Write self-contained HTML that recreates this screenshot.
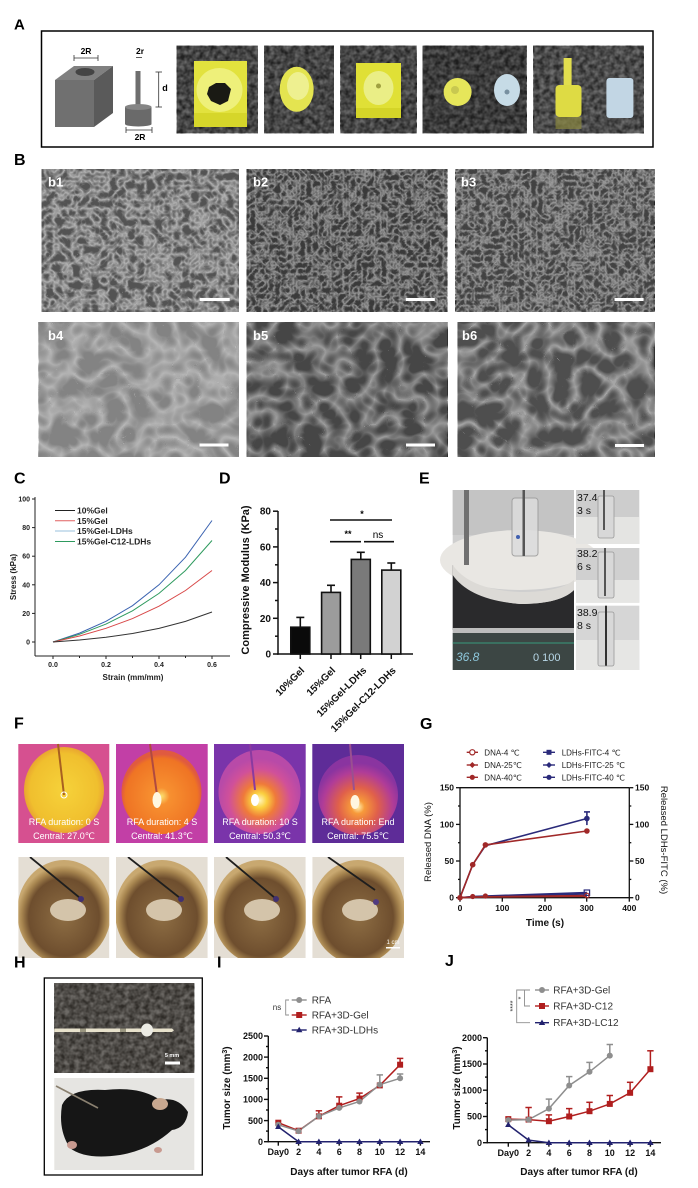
<!DOCTYPE html>
<html><head><meta charset="utf-8"><style>
html,body{margin:0;padding:0;background:#fff;}
svg{display:block;}
text{font-family:"Liberation Sans",Arial,"DejaVu Sans",sans-serif;}
</style></head><body>
<svg width="698" height="1188" viewBox="0 0 698 1188" xmlns="http://www.w3.org/2000/svg">
<defs>
<filter id="nzA" x="0" y="0" width="1" height="1" color-interpolation-filters="sRGB"><feTurbulence type="fractalNoise" baseFrequency="0.2" numOctaves="2" seed="2"/><feColorMatrix type="matrix" values="1.7 0 0 0 -0.35 1.7 0 0 0 -0.35 1.7 0 0 0 -0.35 0 0 0 0 1"/></filter>
<filter id="nzB" x="0" y="0" width="1" height="1" color-interpolation-filters="sRGB"><feTurbulence type="turbulence" baseFrequency="0.11" numOctaves="2" seed="7"/><feColorMatrix type="matrix" values="-2.3 0 0 0 1 -2.3 0 0 0 1 -2.3 0 0 0 1 0 0 0 0 1"/></filter>
<filter id="nzB2" x="0" y="0" width="1" height="1" color-interpolation-filters="sRGB"><feTurbulence type="turbulence" baseFrequency="0.16" numOctaves="2" seed="4"/><feColorMatrix type="matrix" values="-2.3 0 0 0 1 -2.3 0 0 0 1 -2.3 0 0 0 1 0 0 0 0 1"/></filter>
<filter id="nzC" x="0" y="0" width="1" height="1" color-interpolation-filters="sRGB"><feTurbulence type="turbulence" baseFrequency="0.04" numOctaves="2" seed="11"/><feColorMatrix type="matrix" values="-2.3 0 0 0 1 -2.3 0 0 0 1 -2.3 0 0 0 1 0 0 0 0 1"/></filter>
<radialGradient id="th1" cx="0.5" cy="0.5" r="0.5"><stop offset="0" stop-color="#f6d23a"/><stop offset="0.85" stop-color="#f0bf2e"/><stop offset="1" stop-color="#e9a530"/></radialGradient>
<radialGradient id="th2" cx="0.5" cy="0.55" r="0.5"><stop offset="0" stop-color="#fbe070"/><stop offset="0.2" stop-color="#f79030"/><stop offset="0.9" stop-color="#ef7424"/><stop offset="1" stop-color="#e05a40"/></radialGradient>
<radialGradient id="th3" cx="0.5" cy="0.6" r="0.5"><stop offset="0" stop-color="#fff6c0"/><stop offset="0.18" stop-color="#fbd040"/><stop offset="0.4" stop-color="#ef7a3a"/><stop offset="0.75" stop-color="#d0509a"/><stop offset="1" stop-color="#b84aa8"/></radialGradient>
<radialGradient id="th4" cx="0.5" cy="0.65" r="0.55"><stop offset="0" stop-color="#fff0b0"/><stop offset="0.15" stop-color="#f79a3a"/><stop offset="0.45" stop-color="#e0604a"/><stop offset="0.8" stop-color="#b03c98"/><stop offset="1" stop-color="#8a34a0"/></radialGradient>
<radialGradient id="bowl" cx="0.5" cy="0.55" r="0.5"><stop offset="0" stop-color="#8e6e44"/><stop offset="0.75" stop-color="#6e4e2e"/><stop offset="0.9" stop-color="#a88650"/><stop offset="1" stop-color="#c8a870"/></radialGradient>
<clipPath id="cf1"><rect x="18.3" y="857" width="91" height="101"/></clipPath>
<clipPath id="cf2"><rect x="116" y="857" width="91.7" height="101"/></clipPath>
<clipPath id="cf3"><rect x="214" y="857" width="91.7" height="101"/></clipPath>
<clipPath id="cf4"><rect x="312.3" y="857" width="91.7" height="101"/></clipPath>
</defs>

<!-- ================= A ================= -->
<text x="14" y="29.5" font-size="15" font-weight="bold">A</text>
<rect x="41.5" y="31" width="611.5" height="116" fill="#fff" stroke="#000" stroke-width="1.5"/>
<polygon points="55,80 94,80 94,127 55,127" fill="#707070"/>
<polygon points="55,80 94,80 113,66 74,66" fill="#808080"/>
<polygon points="94,80 113,66 113,113 94,127" fill="#5a5a5a"/>
<ellipse cx="85" cy="72" rx="9.5" ry="4" fill="#444"/>
<text x="86" y="54" font-size="8.5" font-weight="bold" text-anchor="middle">2R</text>
<line x1="74" y1="58" x2="98" y2="58" stroke="#333" stroke-width="0.8"/>
<line x1="74" y1="55" x2="74" y2="61" stroke="#333" stroke-width="0.8"/>
<line x1="98" y1="55" x2="98" y2="61" stroke="#333" stroke-width="0.8"/>
<rect x="135.5" y="71" width="5" height="37" fill="#6e6e6e"/>
<rect x="125" y="107" width="26.5" height="17" fill="#6a6a6a"/>
<ellipse cx="138.3" cy="107" rx="13.3" ry="3" fill="#858585"/>
<ellipse cx="138.3" cy="124" rx="13.3" ry="2.5" fill="#6a6a6a"/>
<text x="140" y="54" font-size="8.5" font-weight="bold" text-anchor="middle">2r</text>
<line x1="136" y1="57.5" x2="142" y2="57.5" stroke="#333" stroke-width="0.8"/>
<text x="165" y="91" font-size="9" font-weight="bold" text-anchor="middle">d</text>
<line x1="158.7" y1="72" x2="158.7" y2="107" stroke="#333" stroke-width="0.8"/>
<line x1="155.5" y1="72" x2="162" y2="72" stroke="#333" stroke-width="0.8"/>
<line x1="155.5" y1="107" x2="162" y2="107" stroke="#333" stroke-width="0.8"/>
<line x1="126" y1="130" x2="152" y2="130" stroke="#333" stroke-width="0.8"/>
<line x1="126" y1="127" x2="126" y2="133" stroke="#333" stroke-width="0.8"/>
<line x1="152" y1="127" x2="152" y2="133" stroke="#333" stroke-width="0.8"/>
<text x="140" y="140" font-size="8.5" font-weight="bold" text-anchor="middle">2R</text>

<!-- photos A -->
<g>
<rect x="176.7" y="45.7" width="81.2" height="87.6" filter="url(#nzA)"/>
<rect x="176.7" y="45.7" width="81.2" height="87.6" fill="#2e2e2e" opacity="0.72"/>
<rect x="194" y="61" width="53" height="66" fill="#e2e23e"/>
<ellipse cx="219.5" cy="90" rx="23" ry="22" fill="#eef07a"/>
<polygon points="209,87 216,83 225,83 231,89 228,101 220,105 211,101 207,94" fill="#1a1a14"/>
<rect x="194" y="113" width="53" height="14" fill="#d6d62a"/>
</g>
<g>
<rect x="264.2" y="45.7" width="69.8" height="87.6" filter="url(#nzA)"/>
<rect x="264.2" y="45.7" width="69.8" height="87.6" fill="#2e2e2e" opacity="0.72"/>
<ellipse cx="296.7" cy="89.3" rx="17" ry="22.5" fill="#e4e450"/>
<ellipse cx="298" cy="86" rx="11" ry="14" fill="#eef090"/>
</g>
<g>
<rect x="340.4" y="45.7" width="76.2" height="87.6" filter="url(#nzA)"/>
<rect x="340.4" y="45.7" width="76.2" height="87.6" fill="#2e2e2e" opacity="0.72"/>
<rect x="356" y="63" width="45" height="55" fill="#e0e036"/>
<ellipse cx="378.5" cy="88" rx="15" ry="17" fill="#eaee86"/>
<circle cx="378.5" cy="86" r="2.5" fill="#a0a040"/>
<rect x="356" y="108" width="45" height="10" fill="#d4d428"/>
</g>
<g>
<rect x="422.5" y="45.7" width="104.1" height="87.6" filter="url(#nzA)"/>
<rect x="422.5" y="45.7" width="104.1" height="87.6" fill="#262626" opacity="0.76"/>
<circle cx="457.6" cy="92" r="14" fill="#e6e65a"/>
<circle cx="455" cy="90" r="4" fill="#c8c850"/>
<ellipse cx="507" cy="90" rx="13" ry="16" fill="#c6dbe6"/>
<circle cx="507" cy="92" r="2.5" fill="#7890a0"/>
</g>
<g>
<rect x="533.4" y="45.7" width="110.4" height="87.6" filter="url(#nzA)"/>
<rect x="533.4" y="45.7" width="110.4" height="87.6" fill="#363636" opacity="0.72"/>
<rect x="563.6" y="58" width="8" height="29" fill="#e2de4e"/>
<rect x="555.5" y="85" width="26" height="32" rx="4" fill="#dedb44"/>
<rect x="555.5" y="117" width="26" height="12" fill="#8a8840" opacity="0.7"/>
<rect x="606.4" y="78" width="27" height="40" rx="3" fill="#c2d6e4"/>
</g>

<!-- ================= B ================= -->
<text x="14" y="165" font-size="16" font-weight="bold">B</text>
<g>
<rect x="41.5" y="169" width="197.5" height="143" filter="url(#nzB)"/>
<rect x="41.5" y="169" width="197.5" height="143" fill="#868686" opacity="0.62"/>
<rect x="246.6" y="169" width="200.6" height="143" filter="url(#nzB2)"/>
<rect x="246.6" y="169" width="200.6" height="143" fill="#5e5e5e" opacity="0.62"/>
<rect x="455.4" y="169" width="199.2" height="143" filter="url(#nzB2)"/>
<rect x="455.4" y="169" width="199.2" height="143" fill="#686868" opacity="0.64"/>
<rect x="38.8" y="322" width="200.2" height="135" filter="url(#nzC)"/>
<rect x="38.8" y="322" width="200.2" height="135" fill="#a4a4a4" opacity="0.8"/>
<rect x="246.6" y="322" width="201.1" height="135" filter="url(#nzC)"/>
<rect x="246.6" y="322" width="201.1" height="135" fill="#6a6a6a" opacity="0.66"/>
<rect x="457.6" y="322" width="197" height="135" filter="url(#nzC)"/>
<rect x="457.6" y="322" width="197" height="135" fill="#767676" opacity="0.66"/>
</g>
<g fill="#fff" font-size="13" font-weight="bold">
<text x="48" y="186.5">b1</text><text x="253" y="186.5">b2</text><text x="461" y="186.5">b3</text>
<text x="48" y="340">b4</text><text x="253" y="340">b5</text><text x="462" y="340">b6</text>
</g>
<g fill="#fff">
<rect x="199.7" y="298" width="30" height="3"/><rect x="405.8" y="298" width="29" height="3"/><rect x="614.5" y="298" width="29" height="3"/>
<rect x="199.5" y="443.5" width="29" height="3"/><rect x="406" y="443.5" width="29" height="3"/><rect x="615" y="444" width="29" height="3"/>
</g>

<!-- ================= C ================= -->
<text x="14" y="483.5" font-size="16" font-weight="bold">C</text>
<g stroke="#222" stroke-width="1" fill="none">
<line x1="35" y1="497" x2="35" y2="656"/>
<line x1="35" y1="656" x2="230" y2="656"/>
<line x1="32" y1="642" x2="35" y2="642"/><line x1="32" y1="613.4" x2="35" y2="613.4"/><line x1="32" y1="584.8" x2="35" y2="584.8"/><line x1="32" y1="556.2" x2="35" y2="556.2"/><line x1="32" y1="527.6" x2="35" y2="527.6"/><line x1="32" y1="499" x2="35" y2="499"/>
<line x1="53" y1="656" x2="53" y2="659"/><line x1="106" y1="656" x2="106" y2="659"/><line x1="159" y1="656" x2="159" y2="659"/><line x1="212" y1="656" x2="212" y2="659"/>
<line x1="79.5" y1="656" x2="79.5" y2="658"/><line x1="132.5" y1="656" x2="132.5" y2="658"/><line x1="185.5" y1="656" x2="185.5" y2="658"/>
</g>
<g font-size="7" font-weight="bold" text-anchor="end" fill="#222">
<text x="30" y="644.5">0</text><text x="30" y="616">20</text><text x="30" y="587.3">40</text><text x="30" y="558.7">60</text><text x="30" y="530">80</text><text x="30" y="501.5">100</text>
</g>
<g font-size="7" font-weight="bold" text-anchor="middle" fill="#222">
<text x="53" y="667">0.0</text><text x="106" y="667">0.2</text><text x="159" y="667">0.4</text><text x="212" y="667">0.6</text>
</g>
<text x="133" y="680" font-size="8" font-weight="bold" text-anchor="middle" fill="#222">Strain (mm/mm)</text>
<text transform="translate(16,577) rotate(-90)" font-size="8" font-weight="bold" text-anchor="middle" fill="#222">Stress (kPa)</text>
<g fill="none" stroke-width="1">
<polyline stroke="#3a62b0" points="53,642 79.5,633.1 106,621.3 132.5,605.7 159,584.8 185.5,557.2 212,520.5"/>
<polyline stroke="#2e9a5e" points="53,642 79.5,634.3 106,624.1 132.5,610.8 159,593.4 185.5,570.5 212,540.5"/>
<polyline stroke="#d84848" points="53,642 79.5,636 106,628.3 132.5,618.6 159,606.2 185.5,590.5 212,570.5"/>
<polyline stroke="#333" points="53,642 79.5,640 106,637.3 132.5,633.5 159,628.4 185.5,621.4 212,612"/>
</g>
<g stroke-width="1">
<line x1="55" y1="510.5" x2="75" y2="510.5" stroke="#222"/>
<line x1="55" y1="520.8" x2="75" y2="520.8" stroke="#e06060"/>
<line x1="55" y1="531" x2="75" y2="531" stroke="#98c0dc"/>
<line x1="55" y1="541.5" x2="75" y2="541.5" stroke="#2e9a5e"/>
</g>
<g font-size="8.5" font-weight="bold" fill="#222">
<text x="77" y="513.5">10%Gel</text><text x="77" y="523.8">15%Gel</text><text x="77" y="534">15%Gel-LDHs</text><text x="77" y="544.5">15%Gel-C12-LDHs</text>
</g>

<!-- ================= D ================= -->
<text x="219" y="483.5" font-size="16" font-weight="bold">D</text>
<g stroke="#111" stroke-width="1.5" fill="none">
<line x1="278" y1="511" x2="278" y2="654.7"/>
<line x1="277.3" y1="654" x2="413" y2="654"/>
<line x1="273" y1="654" x2="278" y2="654"/><line x1="273" y1="618.3" x2="278" y2="618.3"/><line x1="273" y1="582.6" x2="278" y2="582.6"/><line x1="273" y1="546.9" x2="278" y2="546.9"/><line x1="273" y1="511.2" x2="278" y2="511.2"/>
<line x1="275" y1="636.2" x2="278" y2="636.2"/><line x1="275" y1="600.5" x2="278" y2="600.5"/><line x1="275" y1="564.8" x2="278" y2="564.8"/><line x1="275" y1="529" x2="278" y2="529"/>
<line x1="300.3" y1="654" x2="300.3" y2="659"/><line x1="331" y1="654" x2="331" y2="659"/><line x1="360.7" y1="654" x2="360.7" y2="659"/><line x1="391.3" y1="654" x2="391.3" y2="659"/>
</g>
<g font-size="10" font-weight="bold" text-anchor="end" fill="#111">
<text x="271" y="657.5">0</text><text x="271" y="621.8">20</text><text x="271" y="586">40</text><text x="271" y="550.4">60</text><text x="271" y="514.7">80</text>
</g>
<text transform="translate(249,580) rotate(-90)" font-size="11" font-weight="bold" text-anchor="middle" fill="#111">Compressive Modulus (KPa)</text>
<g stroke="#111" stroke-width="1.6">
<rect x="290.8" y="627.2" width="19" height="26.8" fill="#0a0a0a"/>
<rect x="321.6" y="592.4" width="18.8" height="61.6" fill="#9c9c9c"/>
<rect x="351.3" y="559.4" width="19" height="94.6" fill="#7a7a7a"/>
<rect x="381.8" y="570.1" width="19" height="83.9" fill="#d2d2d2"/>
<line x1="300.3" y1="627.2" x2="300.3" y2="617.4"/><line x1="296.3" y1="617.4" x2="304.3" y2="617.4"/>
<line x1="331" y1="592.4" x2="331" y2="585.3"/><line x1="327" y1="585.3" x2="335" y2="585.3"/>
<line x1="360.8" y1="559.4" x2="360.8" y2="552.3"/><line x1="356.8" y1="552.3" x2="364.8" y2="552.3"/>
<line x1="391.3" y1="570.1" x2="391.3" y2="563"/><line x1="387.3" y1="563" x2="395.3" y2="563"/>
<line x1="330" y1="520" x2="392" y2="520"/>
<line x1="330" y1="541.7" x2="361" y2="541.7"/>
<line x1="364" y1="541.7" x2="394" y2="541.7"/>
</g>
<text x="362" y="517" font-size="9" font-weight="bold" text-anchor="middle">*</text>
<text x="348" y="537" font-size="9" font-weight="bold" text-anchor="middle">**</text>
<text x="378" y="538" font-size="10" text-anchor="middle">ns</text>
<g font-size="10" font-weight="bold" text-anchor="end" fill="#111">
<text transform="translate(305,671) rotate(-45)">10%Gel</text>
<text transform="translate(336,671) rotate(-45)">15%Gel</text>
<text transform="translate(367,671) rotate(-45)">15%Gel-LDHs</text>
<text transform="translate(396.5,671) rotate(-45)">15%Gel-C12-LDHs</text>
</g>

<!-- ================= E ================= -->
<text x="419" y="483.5" font-size="16" font-weight="bold">E</text>
<g>
<rect x="452.7" y="490" width="121.3" height="180" fill="#cfcfcf"/>
<rect x="452.7" y="490" width="121.3" height="45" fill="#c4c4c4"/>
<ellipse cx="520" cy="560" rx="80" ry="30" fill="#e9e7e3"/>
<path d="M452.7,565 Q470,600 520,604 Q560,604 574,590 L574,630 L452.7,630 Z" fill="#2a2a2c"/>
<path d="M452.7,565 Q470,590 520,592 Q560,592 574,580 L574,590 Q560,604 520,604 Q470,600 452.7,575 Z" fill="#dcdad6"/>
<rect x="452.7" y="628" width="121.3" height="5" fill="#bdbdbd"/>
<rect x="452.7" y="633" width="121.3" height="37" fill="#3c4644"/>
<line x1="452.7" y1="643" x2="574" y2="643" stroke="#3a8a70" stroke-width="1.2"/>
<text x="456" y="661" font-size="12" fill="#8ec8dc" font-style="italic">36.8</text>
<text x="533" y="661" font-size="11" fill="#b8d8e8">0 100</text>
<rect x="464" y="490" width="5" height="75" fill="#707070"/>
<rect x="512" y="498" width="26" height="58" rx="3" fill="#dcdcdc" stroke="#9a9a9a" stroke-width="1" opacity="0.85"/>
<rect x="522.5" y="490" width="2.5" height="66" fill="#555"/>
<circle cx="518" cy="537" r="2" fill="#4060b0"/>
</g>
<g>
<rect x="576" y="490" width="63.3" height="54" fill="#cdcdcd"/>
<rect x="576" y="517" width="63.3" height="27" fill="#e4e4e2"/>
<rect x="598" y="496" width="16" height="42" rx="2" fill="#d8d8d8" stroke="#999" stroke-width="0.8"/>
<rect x="603" y="490" width="2" height="40" fill="#555"/>
<rect x="576" y="548" width="63.3" height="54.7" fill="#d0d0d0"/>
<rect x="576" y="580" width="63.3" height="22.7" fill="#e6e6e4"/>
<rect x="598" y="552" width="16" height="46" rx="2" fill="#d8d8d8" stroke="#999" stroke-width="0.8"/>
<rect x="604" y="548" width="2" height="48" fill="#555"/>
<rect x="576" y="605.7" width="63.3" height="64.3" fill="#d6d6d6"/>
<rect x="576" y="640" width="63.3" height="30" fill="#e6e6e4"/>
<rect x="598" y="612" width="16" height="54" rx="2" fill="#d8d8d8" stroke="#999" stroke-width="0.8"/>
<rect x="605" y="605.7" width="2" height="60" fill="#333"/>
</g>
<g font-size="10.5" fill="#111">
<text x="577" y="501">37.4</text><text x="577" y="514">3 s</text>
<text x="577" y="557">38.2</text><text x="577" y="570">6 s</text>
<text x="577" y="616">38.9</text><text x="577" y="629">8 s</text>
</g>

<!-- ================= F ================= -->
<text x="14" y="728.5" font-size="16" font-weight="bold">F</text>
<g>
<rect x="18.3" y="744" width="91" height="99" fill="#d65090"/>
<ellipse cx="64" cy="790" rx="40" ry="43" fill="url(#th1)"/>
<line x1="58" y1="744" x2="64" y2="795" stroke="#a86020" stroke-width="2"/>
<circle cx="64" cy="795" r="3" fill="none" stroke="#fff" stroke-width="1"/>
<rect x="116" y="744" width="91.7" height="99" fill="#c23fa6"/>
<ellipse cx="161.5" cy="792" rx="40" ry="42" fill="url(#th2)"/>
<line x1="150" y1="744" x2="157" y2="795" stroke="#b04a40" stroke-width="2"/>
<ellipse cx="157" cy="800" rx="4.5" ry="8" fill="#fff8e0"/>
<rect x="214" y="744" width="91.7" height="99" fill="#7a34aa"/>
<ellipse cx="259.5" cy="792" rx="41" ry="42" fill="url(#th3)"/>
<line x1="250" y1="744" x2="255" y2="790" stroke="#8a3aa0" stroke-width="2"/>
<ellipse cx="255" cy="800" rx="4" ry="6" fill="#fff"/>
<rect x="312.3" y="744" width="91.7" height="99" fill="#5e2c98"/>
<ellipse cx="358" cy="795" rx="40" ry="40" fill="url(#th4)"/>
<line x1="350" y1="744" x2="354" y2="790" stroke="#9a5090" stroke-width="2"/>
<ellipse cx="355" cy="802" rx="4.5" ry="7" fill="#fff6e0"/>
</g>
<g font-size="9" fill="#fff" text-anchor="middle">
<text x="64" y="825">RFA duration: 0 S</text><text x="64" y="839">Central: 27.0℃</text>
<text x="162" y="825">RFA duration: 4 S</text><text x="162" y="839">Central: 41.3℃</text>
<text x="260" y="825">RFA duration: 10 S</text><text x="260" y="839">Central: 50.3℃</text>
<text x="358" y="825">RFA duration:  End</text><text x="358" y="839">Central: 75.5℃</text>
</g>
<g clip-path="url(#cf1)">
<rect x="18.3" y="857" width="91" height="101" fill="#e4ded4"/>
<ellipse cx="64" cy="912" rx="47" ry="52" fill="url(#bowl)"/>
<ellipse cx="68" cy="910" rx="18" ry="11" fill="#d4c4aa"/>
<line x1="30" y1="857" x2="80" y2="898" stroke="#1e1e1e" stroke-width="1.8"/>
<circle cx="81" cy="899" r="3" fill="#403070"/>
</g>
<g clip-path="url(#cf2)">
<rect x="116" y="857" width="91.7" height="101" fill="#e4ded4"/>
<ellipse cx="162" cy="912" rx="47" ry="52" fill="url(#bowl)"/>
<ellipse cx="164" cy="910" rx="18" ry="11" fill="#d4c4aa"/>
<line x1="128" y1="857" x2="180" y2="898" stroke="#1e1e1e" stroke-width="1.8"/>
<circle cx="181" cy="899" r="3" fill="#403070"/>
</g>
<g clip-path="url(#cf3)">
<rect x="214" y="857" width="91.7" height="101" fill="#e4ded4"/>
<ellipse cx="260" cy="912" rx="47" ry="52" fill="url(#bowl)"/>
<ellipse cx="262" cy="910" rx="18" ry="11" fill="#d4c4aa"/>
<line x1="226" y1="857" x2="275" y2="898" stroke="#1e1e1e" stroke-width="1.8"/>
<circle cx="276" cy="899" r="3" fill="#403070"/>
</g>
<g clip-path="url(#cf4)">
<rect x="312.3" y="857" width="91.7" height="101" fill="#e4ded4"/>
<ellipse cx="358" cy="912" rx="47" ry="52" fill="url(#bowl)"/>
<ellipse cx="360" cy="910" rx="18" ry="11" fill="#d4c4aa"/>
<line x1="328" y1="857" x2="375" y2="890" stroke="#1e1e1e" stroke-width="1.8"/>
<circle cx="376" cy="902" r="3" fill="#503a80"/>
<rect x="386" y="947" width="14" height="1.5" fill="#fff"/>
<text x="393" y="944" font-size="6" fill="#fff" text-anchor="middle">1 cm</text>
</g>

<!-- ================= G ================= -->
<text x="420" y="729" font-size="16" font-weight="bold">G</text>
<g stroke="#111" stroke-width="1.3" fill="none">
<line x1="460" y1="787.7" x2="460" y2="898"/>
<line x1="629.3" y1="787.7" x2="629.3" y2="898"/>
<line x1="460" y1="787.7" x2="629.3" y2="787.7"/>
<line x1="460" y1="897.7" x2="629.3" y2="897.7"/>
<line x1="456" y1="897.7" x2="460" y2="897.7"/><line x1="456" y1="861" x2="460" y2="861"/><line x1="456" y1="824.4" x2="460" y2="824.4"/><line x1="456" y1="787.7" x2="460" y2="787.7"/>
<line x1="458" y1="879.4" x2="460" y2="879.4"/><line x1="458" y1="842.7" x2="460" y2="842.7"/><line x1="458" y1="806" x2="460" y2="806"/>
<line x1="629.3" y1="897.7" x2="633.3" y2="897.7"/><line x1="629.3" y1="861" x2="633.3" y2="861"/><line x1="629.3" y1="824.4" x2="633.3" y2="824.4"/><line x1="629.3" y1="787.7" x2="633.3" y2="787.7"/>
<line x1="629.3" y1="879.4" x2="631.3" y2="879.4"/><line x1="629.3" y1="842.7" x2="631.3" y2="842.7"/><line x1="629.3" y1="806" x2="631.3" y2="806"/>
<line x1="460" y1="897.7" x2="460" y2="901.7"/><line x1="502.3" y1="897.7" x2="502.3" y2="901.7"/><line x1="545" y1="897.7" x2="545" y2="901.7"/><line x1="586.7" y1="897.7" x2="586.7" y2="901.7"/><line x1="629.3" y1="897.7" x2="629.3" y2="901.7"/>
</g>
<g font-size="8.5" font-weight="bold" fill="#111" text-anchor="end">
<text x="454" y="900.7">0</text><text x="454" y="864">50</text><text x="454" y="827.4">100</text><text x="454" y="790.7">150</text>
</g>
<g font-size="8.5" font-weight="bold" fill="#111">
<text x="635" y="900.7">0</text><text x="635" y="864">50</text><text x="635" y="827.4">100</text><text x="635" y="790.7">150</text>
</g>
<g font-size="8.5" font-weight="bold" fill="#111" text-anchor="middle">
<text x="460" y="911">0</text><text x="502.3" y="911">100</text><text x="545" y="911">200</text><text x="586.7" y="911">300</text><text x="629.3" y="911">400</text>
</g>
<text x="545" y="926" font-size="10" font-weight="bold" text-anchor="middle" fill="#111">Time (s)</text>
<text transform="translate(431,842) rotate(-90)" font-size="9.5" text-anchor="middle" fill="#111">Released DNA (%)</text>
<text transform="translate(661,840) rotate(90)" font-size="9.5" text-anchor="middle" fill="#111">Released LDHs-FITC (%)</text>
<g fill="none" stroke-width="1.6">
<polyline stroke="#2a2a7a" points="460,897.7 472.7,896.5 485.4,896 586.9,892.6"/>
<polyline stroke="#2a2a7a" points="460,897.7 472.7,896.8 485.4,896.3 586.9,894"/>
<polyline stroke="#a02828" points="460,897.7 472.7,897 485.4,896.8 586.9,895.5"/>
<polyline stroke="#a02828" points="460,897.7 472.7,897.2 485.4,897 586.9,896.2"/>
<polyline stroke="#2a2a7a" points="460,897.7 472.7,864.7 485.4,845.7 586.9,818.5"/>
<polyline stroke="#a02828" points="460,897.7 472.7,864.7 485.4,844.9 586.9,831"/>
<line stroke="#2a2a7a" x1="586.9" y1="811.9" x2="586.9" y2="825.1"/><line stroke="#2a2a7a" x1="584" y1="811.9" x2="590" y2="811.9"/>
<line stroke="#a02828" x1="586.9" y1="828.8" x2="586.9" y2="833.2"/>
</g>
<g>
<circle cx="472.7" cy="864.7" r="2.8" fill="#a02828"/><circle cx="485.4" cy="844.9" r="2.8" fill="#a02828"/>
<circle cx="586.9" cy="818.5" r="2.8" fill="#2a2a7a"/><circle cx="586.9" cy="831" r="2.8" fill="#a02828"/>
<circle cx="460" cy="897.7" r="2.8" fill="#a02828"/>
<circle cx="472.7" cy="896.5" r="2.6" fill="#a02828"/><circle cx="485.4" cy="896" r="2.6" fill="#a02828"/>
<rect x="584.2" y="890" width="5.4" height="5.4" fill="none" stroke="#2a2a7a" stroke-width="1.2"/>
<circle cx="586.9" cy="895.5" r="2.3" fill="none" stroke="#a02828" stroke-width="1.2"/>
</g>
<g stroke-width="1.4">
<line x1="466.7" y1="752.3" x2="478" y2="752.3" stroke="#a02828"/><circle cx="472.3" cy="752.3" r="2.6" fill="#fff" stroke="#a02828" stroke-width="1.2"/>
<line x1="466.7" y1="765" x2="478" y2="765" stroke="#a02828"/><polygon points="472.3,762 475.3,765 472.3,768 469.3,765" fill="#a02828"/>
<line x1="466.7" y1="777.3" x2="478" y2="777.3" stroke="#a02828"/><circle cx="472.3" cy="777.3" r="2.6" fill="#a02828"/>
<line x1="543" y1="752.3" x2="555" y2="752.3" stroke="#2a2a7a"/><rect x="546.5" y="749.8" width="5" height="5" fill="#2a2a7a"/>
<line x1="543" y1="765" x2="555" y2="765" stroke="#2a2a7a"/><polygon points="549,762 552,765 549,768 546,765" fill="#2a2a7a"/>
<line x1="543" y1="777.3" x2="555" y2="777.3" stroke="#2a2a7a"/><circle cx="549" cy="777.3" r="2.6" fill="#2a2a7a"/>
</g>
<g font-size="8" fill="#222">
<text x="484.3" y="755.3">DNA-4 ℃</text><text x="484.3" y="768">DNA-25℃</text><text x="484.3" y="780.3">DNA-40℃</text>
<text x="561.7" y="755.3">LDHs-FITC-4 ℃</text><text x="561.7" y="768">LDHs-FITC-25 ℃</text><text x="561.7" y="780.3">LDHs-FITC-40 ℃</text>
</g>

<!-- ================= H ================= -->
<text x="14" y="967.5" font-size="16" font-weight="bold">H</text>
<rect x="44.3" y="978" width="158" height="197" fill="#fff" stroke="#000" stroke-width="1.3"/>
<rect x="54.3" y="983" width="140" height="90" filter="url(#nzA)"/>
<rect x="54.3" y="983" width="140" height="90" fill="#3e3a34" opacity="0.75"/>
<rect x="54.3" y="1028.5" width="117" height="3.5" fill="#e8e2cc"/>
<rect x="80" y="1028.5" width="6" height="3.5" fill="#9a9680"/><rect x="120" y="1028.5" width="6" height="3.5" fill="#9a9680"/>
<ellipse cx="147" cy="1030" rx="6" ry="6.5" fill="#ecebe4"/>
<polygon points="153,1028.5 172,1028.5 174,1030.2 172,1032 153,1032" fill="#e8e2cc"/>
<text x="172" y="1057" font-size="5.5" font-weight="bold" fill="#fff" text-anchor="middle">5 mm</text>
<rect x="165" y="1061.5" width="15" height="3" fill="#fff"/>
<rect x="54.3" y="1078" width="140" height="92" fill="#e6e5e2"/>
<path d="M62,1105 Q70,1088 105,1090 Q140,1086 160,1100 Q178,1096 188,1112 Q186,1128 172,1130 Q150,1150 120,1155 Q85,1160 70,1148 Q58,1130 62,1105 Z" fill="#161616"/>
<ellipse cx="160" cy="1104" rx="8" ry="6" fill="#c8a890"/>
<ellipse cx="72" cy="1145" rx="5" ry="4" fill="#c89a90"/><ellipse cx="158" cy="1150" rx="4" ry="3" fill="#c89a90"/>
<line x1="56" y1="1086" x2="98" y2="1108" stroke="#8a8070" stroke-width="1.6"/>

<!-- ================= I ================= -->
<text x="217" y="967.5" font-size="16" font-weight="bold">I</text>
<g stroke="#111" stroke-width="1.4" fill="none">
<line x1="268.3" y1="1036" x2="268.3" y2="1142.4"/>
<line x1="267.6" y1="1141.7" x2="430" y2="1141.7"/>
<line x1="264" y1="1141.7" x2="268.3" y2="1141.7"/><line x1="264" y1="1120.6" x2="268.3" y2="1120.6"/><line x1="264" y1="1099.4" x2="268.3" y2="1099.4"/><line x1="264" y1="1078.3" x2="268.3" y2="1078.3"/><line x1="264" y1="1057.1" x2="268.3" y2="1057.1"/><line x1="264" y1="1036" x2="268.3" y2="1036"/>
<line x1="266" y1="1131.1" x2="268.3" y2="1131.1"/><line x1="266" y1="1110" x2="268.3" y2="1110"/><line x1="266" y1="1088.8" x2="268.3" y2="1088.8"/><line x1="266" y1="1067.7" x2="268.3" y2="1067.7"/><line x1="266" y1="1046.5" x2="268.3" y2="1046.5"/>
<line x1="278.3" y1="1141.7" x2="278.3" y2="1145.7"/><line x1="298.6" y1="1141.7" x2="298.6" y2="1145.7"/><line x1="318.9" y1="1141.7" x2="318.9" y2="1145.7"/><line x1="339.2" y1="1141.7" x2="339.2" y2="1145.7"/><line x1="359.5" y1="1141.7" x2="359.5" y2="1145.7"/><line x1="379.8" y1="1141.7" x2="379.8" y2="1145.7"/><line x1="400.1" y1="1141.7" x2="400.1" y2="1145.7"/><line x1="420.4" y1="1141.7" x2="420.4" y2="1145.7"/>
</g>
<g font-size="9" font-weight="bold" fill="#111" text-anchor="end">
<text x="263" y="1144.9">0</text><text x="263" y="1123.8">500</text><text x="263" y="1102.6">1000</text><text x="263" y="1081.5">1500</text><text x="263" y="1060.3">2000</text><text x="263" y="1039.2">2500</text>
</g>
<g font-size="9" font-weight="bold" fill="#111" text-anchor="middle">
<text x="278.3" y="1155">Day0</text><text x="298.6" y="1155">2</text><text x="318.9" y="1155">4</text><text x="339.2" y="1155">6</text><text x="359.5" y="1155">8</text><text x="379.8" y="1155">10</text><text x="400.1" y="1155">12</text><text x="420.4" y="1155">14</text>
</g>
<text x="349" y="1175" font-size="10" font-weight="bold" text-anchor="middle" fill="#111">Days after tumor RFA (d)</text>
<text transform="translate(230,1088) rotate(-90)" font-size="10" font-weight="bold" text-anchor="middle" fill="#111">Tumor size (mm<tspan dy="-3" font-size="7">3</tspan><tspan dy="3">)</tspan></text>
<g fill="none" stroke-width="1.5">
<g stroke="#b01e1e">
<line x1="339.2" y1="1105.7" x2="339.2" y2="1096.9"/><line x1="336" y1="1096.9" x2="342.4" y2="1096.9"/>
<line x1="359.5" y1="1098.6" x2="359.5" y2="1093.1"/><line x1="356.3" y1="1093.1" x2="362.7" y2="1093.1"/>
<line x1="400.1" y1="1064.7" x2="400.1" y2="1058.4"/><line x1="396.9" y1="1058.4" x2="403.3" y2="1058.4"/>
<line x1="318.9" y1="1116.3" x2="318.9" y2="1110.8"/><line x1="315.7" y1="1110.8" x2="322.1" y2="1110.8"/>
</g>
<g stroke="#8e8e8e">
<line x1="379.8" y1="1084.6" x2="379.8" y2="1074.9"/><line x1="376.6" y1="1074.9" x2="383" y2="1074.9"/>
<line x1="400.1" y1="1078.3" x2="400.1" y2="1074"/><line x1="396.9" y1="1074" x2="403.3" y2="1074"/>
</g>
<polyline stroke="#b01e1e" points="278.3,1122.7 298.6,1130.7 318.9,1116.3 339.2,1105.7 359.5,1098.6 379.8,1085.4 400.1,1064.7"/>
<polyline stroke="#8e8e8e" points="278.3,1124.8 298.6,1131.1 318.9,1116.3 339.2,1107.9 359.5,1101.5 379.8,1084.6 400.1,1078.3"/>
<polyline stroke="#22226e" points="278.3,1126.9 298.6,1141.7 420.4,1141.7"/>
</g>
<g fill="#b01e1e">
<rect x="275.3" y="1119.7" width="6" height="6"/><rect x="295.6" y="1127.7" width="6" height="6"/><rect x="315.9" y="1113.3" width="6" height="6"/><rect x="336.2" y="1102.7" width="6" height="6"/><rect x="356.5" y="1095.6" width="6" height="6"/><rect x="376.8" y="1082.4" width="6" height="6"/><rect x="397.1" y="1061.7" width="6" height="6"/>
</g>
<g fill="#8e8e8e">
<circle cx="278.3" cy="1124.8" r="3"/><circle cx="298.6" cy="1131.1" r="3"/><circle cx="318.9" cy="1116.3" r="3"/><circle cx="339.2" cy="1107.9" r="3"/><circle cx="359.5" cy="1101.5" r="3"/><circle cx="379.8" cy="1084.6" r="3"/><circle cx="400.1" cy="1078.3" r="3"/>
</g>
<g fill="#22226e">
<polygon points="278.3,1123.5 281.5,1129 275.1,1129"/>
<polygon points="298.6,1138.5 301.8,1144 295.4,1144"/><polygon points="318.9,1138.5 322.1,1144 315.7,1144"/><polygon points="339.2,1138.5 342.4,1144 336,1144"/><polygon points="359.5,1138.5 362.7,1144 356.3,1144"/><polygon points="379.8,1138.5 383,1144 376.6,1144"/><polygon points="400.1,1138.5 403.3,1144 396.9,1144"/><polygon points="420.4,1138.5 423.6,1144 417.2,1144"/>
</g>
<!-- I legend -->
<g stroke-width="1.4">
<line x1="291.7" y1="1000" x2="306.7" y2="1000" stroke="#8e8e8e"/><circle cx="299.2" cy="1000" r="3" fill="#8e8e8e"/>
<line x1="291.7" y1="1015" x2="306.7" y2="1015" stroke="#b01e1e"/><rect x="296.2" y="1012" width="6" height="6" fill="#b01e1e"/>
<line x1="291.7" y1="1030" x2="306.7" y2="1030" stroke="#22226e"/><polygon points="299.2,1026.8 302.4,1032.3 296,1032.3" fill="#22226e"/>
</g>
<g fill="none" stroke="#8e8e8e" stroke-width="0.9">
<polyline points="289,1000 285.7,1000 285.7,1015 289,1015"/>
</g>
<text x="277" y="1010" font-size="8" text-anchor="middle" fill="#333">ns</text>
<g font-size="10" fill="#333">
<text x="311.7" y="1003.5">RFA</text><text x="311.7" y="1018.5">RFA+3D-Gel</text><text x="311.7" y="1033.5">RFA+3D-LDHs</text>
</g>

<!-- ================= J ================= -->
<text x="445" y="966" font-size="16" font-weight="bold">J</text>
<g stroke="#111" stroke-width="1.4" fill="none">
<line x1="487.3" y1="1037.7" x2="487.3" y2="1143.4"/>
<line x1="486.6" y1="1142.7" x2="661" y2="1142.7"/>
<line x1="483" y1="1142.7" x2="487.3" y2="1142.7"/><line x1="483" y1="1116.5" x2="487.3" y2="1116.5"/><line x1="483" y1="1090.2" x2="487.3" y2="1090.2"/><line x1="483" y1="1064" x2="487.3" y2="1064"/><line x1="483" y1="1037.7" x2="487.3" y2="1037.7"/>
<line x1="485" y1="1129.6" x2="487.3" y2="1129.6"/><line x1="485" y1="1103.3" x2="487.3" y2="1103.3"/><line x1="485" y1="1077.1" x2="487.3" y2="1077.1"/><line x1="485" y1="1050.8" x2="487.3" y2="1050.8"/>
<line x1="508.3" y1="1142.7" x2="508.3" y2="1146.7"/><line x1="528.6" y1="1142.7" x2="528.6" y2="1146.7"/><line x1="548.9" y1="1142.7" x2="548.9" y2="1146.7"/><line x1="569.2" y1="1142.7" x2="569.2" y2="1146.7"/><line x1="589.5" y1="1142.7" x2="589.5" y2="1146.7"/><line x1="609.8" y1="1142.7" x2="609.8" y2="1146.7"/><line x1="630.1" y1="1142.7" x2="630.1" y2="1146.7"/><line x1="650.4" y1="1142.7" x2="650.4" y2="1146.7"/>
</g>
<g font-size="9" font-weight="bold" fill="#111" text-anchor="end">
<text x="482" y="1145.9">0</text><text x="482" y="1119.7">500</text><text x="482" y="1093.4">1000</text><text x="482" y="1067.2">1500</text><text x="482" y="1040.9">2000</text>
</g>
<g font-size="9" font-weight="bold" fill="#111" text-anchor="middle">
<text x="508.3" y="1156">Day0</text><text x="528.6" y="1156">2</text><text x="548.9" y="1156">4</text><text x="569.2" y="1156">6</text><text x="589.5" y="1156">8</text><text x="609.8" y="1156">10</text><text x="630.1" y="1156">12</text><text x="650.4" y="1156">14</text>
</g>
<text x="579" y="1175" font-size="10" font-weight="bold" text-anchor="middle" fill="#111">Days after tumor RFA (d)</text>
<text transform="translate(460,1088) rotate(-90)" font-size="10" font-weight="bold" text-anchor="middle" fill="#111">Tumor size (mm<tspan dy="-3" font-size="7">3</tspan><tspan dy="3">)</tspan></text>
<g fill="none" stroke-width="1.5">
<g stroke="#b01e1e">
<line x1="528.6" y1="1119.6" x2="528.6" y2="1107.5"/><line x1="525.4" y1="1107.5" x2="531.8" y2="1107.5"/>
<line x1="548.9" y1="1121.2" x2="548.9" y2="1114.9"/><line x1="545.7" y1="1114.9" x2="552.1" y2="1114.9"/>
<line x1="569.2" y1="1116.5" x2="569.2" y2="1108.6"/><line x1="566" y1="1108.6" x2="572.4" y2="1108.6"/>
<line x1="589.5" y1="1111.2" x2="589.5" y2="1102.3"/><line x1="586.3" y1="1102.3" x2="592.7" y2="1102.3"/>
<line x1="609.8" y1="1103.9" x2="609.8" y2="1095.5"/><line x1="606.6" y1="1095.5" x2="613" y2="1095.5"/>
<line x1="630.1" y1="1092.8" x2="630.1" y2="1082.3"/><line x1="626.9" y1="1082.3" x2="633.3" y2="1082.3"/>
<line x1="650.4" y1="1069.2" x2="650.4" y2="1050.8"/><line x1="647.2" y1="1050.8" x2="653.6" y2="1050.8"/>
</g>
<g stroke="#8e8e8e">
<line x1="548.9" y1="1108.6" x2="548.9" y2="1099.1"/><line x1="545.7" y1="1099.1" x2="552.1" y2="1099.1"/>
<line x1="569.2" y1="1085.5" x2="569.2" y2="1076.6"/><line x1="566" y1="1076.6" x2="572.4" y2="1076.6"/>
<line x1="589.5" y1="1071.8" x2="589.5" y2="1062.4"/><line x1="586.3" y1="1062.4" x2="592.7" y2="1062.4"/>
<line x1="609.8" y1="1055.6" x2="609.8" y2="1044.5"/><line x1="606.6" y1="1044.5" x2="613" y2="1044.5"/>
</g>
<line stroke="#22226e" x1="528.6" y1="1140.1" x2="528.6" y2="1137.5"/>
<polyline stroke="#b01e1e" points="508.3,1119.1 528.6,1119.6 548.9,1121.2 569.2,1116.5 589.5,1111.2 609.8,1103.9 630.1,1092.8 650.4,1069.2"/>
<polyline stroke="#8e8e8e" points="508.3,1120.1 528.6,1119.6 548.9,1108.6 569.2,1085.5 589.5,1071.8 609.8,1055.6"/>
<polyline stroke="#22226e" points="508.3,1124.9 528.6,1140.1 548.9,1142.7 650.4,1142.7"/>
</g>
<g fill="#b01e1e">
<rect x="505.3" y="1116.1" width="6" height="6"/><rect x="525.6" y="1116.6" width="6" height="6"/><rect x="545.9" y="1118.2" width="6" height="6"/><rect x="566.2" y="1113.5" width="6" height="6"/><rect x="586.5" y="1108.2" width="6" height="6"/><rect x="606.8" y="1100.9" width="6" height="6"/><rect x="627.1" y="1089.8" width="6" height="6"/><rect x="647.4" y="1066.2" width="6" height="6"/>
</g>
<g fill="#8e8e8e">
<circle cx="508.3" cy="1120.1" r="3"/><circle cx="528.6" cy="1119.6" r="3"/><circle cx="548.9" cy="1108.6" r="3"/><circle cx="569.2" cy="1085.5" r="3"/><circle cx="589.5" cy="1071.8" r="3"/><circle cx="609.8" cy="1055.6" r="3"/>
</g>
<g fill="#22226e">
<polygon points="508.3,1121.5 511.5,1127 505.1,1127"/>
<polygon points="528.6,1136.9 531.8,1142.4 525.4,1142.4"/><polygon points="548.9,1139.5 552.1,1145 545.7,1145"/><polygon points="569.2,1139.5 572.4,1145 566,1145"/><polygon points="589.5,1139.5 592.7,1145 586.3,1145"/><polygon points="609.8,1139.5 613,1145 606.6,1145"/><polygon points="630.1,1139.5 633.3,1145 626.9,1145"/><polygon points="650.4,1139.5 653.6,1145 647.2,1145"/>
</g>
<!-- J legend -->
<g stroke-width="1.4">
<line x1="535" y1="990" x2="549" y2="990" stroke="#8e8e8e"/><circle cx="542" cy="990" r="3" fill="#8e8e8e"/>
<line x1="535" y1="1006" x2="549" y2="1006" stroke="#b01e1e"/><rect x="539" y="1003" width="6" height="6" fill="#b01e1e"/>
<line x1="535" y1="1022.7" x2="549" y2="1022.7" stroke="#22226e"/><polygon points="542,1019.5 545.2,1025 538.8,1025" fill="#22226e"/>
</g>
<g fill="none" stroke="#8e8e8e" stroke-width="0.9">
<polyline points="530,990 524.5,990 524.5,1006 530,1006"/>
<polyline points="524.5,990 516.7,990 516.7,1022.7 530,1022.7"/>
</g>
<text transform="translate(523,998) rotate(-90)" font-size="7" text-anchor="middle" fill="#333">*</text>
<text transform="translate(515,1006) rotate(-90)" font-size="7" text-anchor="middle" fill="#333">****</text>
<g font-size="10" fill="#333">
<text x="553.3" y="993.5">RFA+3D-Gel</text><text x="553.3" y="1009.5">RFA+3D-C12</text><text x="553.3" y="1026.2">RFA+3D-LC12</text>
</g>
</svg>
</body></html>
